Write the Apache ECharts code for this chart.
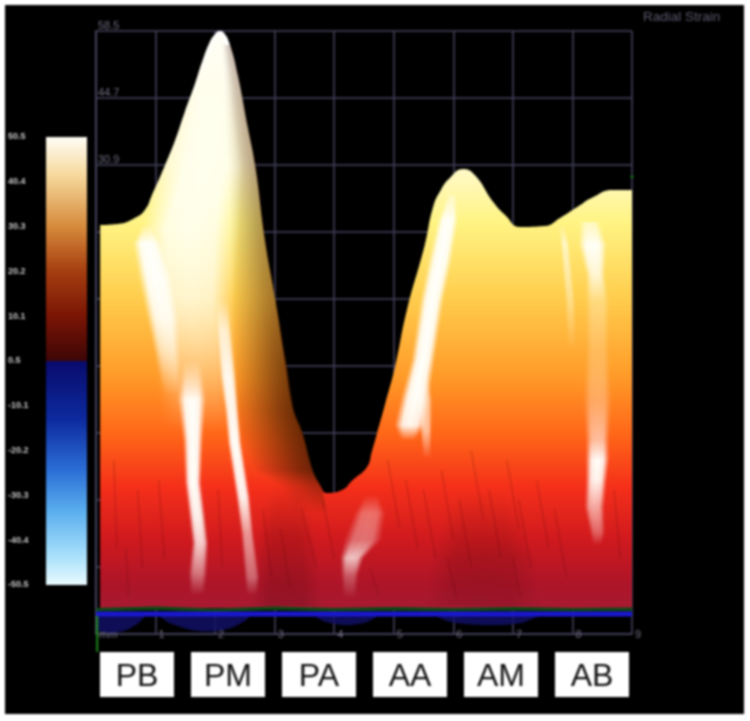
<!DOCTYPE html>
<html>
<head>
<meta charset="utf-8">
<script src="https://cdn.jsdelivr.net/npm/echarts@6/dist/echarts.min.js"></script>
<style>
html,body{margin:0;padding:0;background:#fff;}
#stage{position:relative;width:750px;height:721px;filter:blur(.9px);overflow:hidden;}
#panel{position:absolute;left:5px;top:5px;width:739px;height:709px;background:#000;}
#chart{position:absolute;left:0;top:0;width:750px;height:721px;}
</style>
</head>
<body>
<div id="stage"><div id="panel"></div><div id="chart"></div></div>
<script>
// ---- values (x in mm, strain in %) ----
const segments = ['PB','PM','PA','AA','AM','AB'];
const xTicks = [0,1,2,3,4,5,6,7,8,9];
const strainTicks = [58.5,44.7,30.9,17.1,3.3,-10.5,-24.3,-38.1,-51.9,-65.7];
const strainLabels = [58.5,44.7,30.9];
const surfaceBase = -60.35;
const blueBase = -61.6;
const surfaceTop = [
 [.07,18.54],[.37,18.75],[.65,19.98],[.82,21.63],[.94,24.72],[1.16,30.9],[1.33,36.05],[1.49,41.82],
 [1.66,47.58],[1.78,52.11],[1.91,56.23],[2.0,57.88],[2.07,58.5],[2.15,58.09],[2.25,55.62],[2.38,49.44],
 [2.55,38.52],[2.67,30.9],[2.84,15.04],[3.01,3.09],[3.17,-9.27],[3.31,-19.57],[3.46,-24.3],[3.63,-31.92],
 [3.76,-35.0],[3.88,-36.66],[4.13,-36.05],[4.31,-33.98],[4.55,-31.3],[4.63,-28.2],[4.72,-24.3],[4.85,-18.53],
 [5.02,-10.7],[5.22,1.03],[5.52,14.42],[5.66,22.25],[5.79,25.75],[5.94,28.22],[6.16,30.08],[6.36,28.84],
 [6.67,23.28],[6.87,20.6],[7.12,18.13],[7.54,18.33],[7.79,19.98],[8.08,22.25],[8.35,24.31],[8.68,25.75],[9,25.75]
];
const negativeLobes = [
 [.02,-65.0],[.24,-65.5],[.49,-65.0],[.71,-63.5],[.89,-61.6],[.96,-61.6],[1.24,-63.5],[1.58,-64.8],[1.91,-65.2],
 [2.25,-64.5],[2.5,-63],[2.67,-61.6],[3.56,-61.6],[3.84,-63.2],[4.18,-63.9],[4.52,-63.4],[4.85,-61.6],
 [5.57,-61.6],[5.94,-63.2],[6.53,-63.9],[7.12,-63.5],[7.61,-61.6],[9,-61.6]
];
const greenRim = [[0,-60.7],[1,-60.4],[2,-60.8],[3,-60.4],[4,-60.7],[5,-60.5],[6,-60.7],[7,-60.5],[8,-60.7],[9,-60.6]];
const greenMarker = [[.02,-62],[.02,-69.4]];
const greenDot = [[9,28.5]];
// streak rows: [x, strain, half-spread in mm, strength]
const slopeShade = [[2.18,55.6,.08,.3],[2.26,49.4,.13,.33],[2.36,38.5,.2,.36],[2.45,30.9,.24,.4],[2.55,15,.3,.45],[2.65,3.1,.37,.5],[2.75,-9.3,.44,.68],[2.82,-19.6,.5,.78],[2.93,-24.3,.54,.8],[3.14,-31.9,.5,.78],[3.44,-35.4,.34,.45],[3.6,-41,.3,0]];
const shadePA = [[3.2,-34,.3,0],[3.2,-46,.5,.18],[3.2,-60,.6,.22]];
const shadeAM = [[6.5,-36,.5,0],[6.5,-50,.9,.2],[6.5,-60,1.0,.16]];
const bodyGlow = [[2.07,57.5,.1,.5],[1.95,44.3,.37,1],[1.83,30.9,.64,1],[1.58,17.5,.84,.95],[1.58,3.1,.75,.8],[1.70,-12.8,.67,.32],[1.75,-24.1,.67,0]];
const hotPB = [[.84,18.5,.07,0],[.86,14.8,.24,1],[.99,7.8,.28,1],[1.12,-.4,.27,.9],[1.19,-7.2,.22,.6],[1.28,-16.5,.17,0]];
const hotPBlow = [[1.61,-9.3,.17,0],[1.61,-17.5,.24,1],[1.63,-25.8,.17,1],[1.63,-34.6,.14,1],[1.70,-41.6,.14,.95],[1.75,-47,.14,.8],[1.71,-53.2,.16,.42],[1.70,-57.7,.13,0]];
const hotPM = [[2.12,3.1,.12,0],[2.15,-3.1,.13,.7],[2.22,-12.8,.14,.95],[2.28,-19.6,.12,.95],[2.33,-26.4,.12,1],[2.47,-37.5,.12,.95],[2.54,-44.9,.11,.55],[2.62,-54,.13,.35],[2.62,-57.7,.1,0]];
const hotPA = [[4.63,-37.1,.13,0],[4.6,-40.8,.26,.35],[4.48,-46.3,.32,.38],[4.3,-50,.2,.75],[4.26,-53.6,.15,.3],[4.26,-58.3,.12,0]];
const hotAA = [[5.98,24.7,.07,.3],[5.91,19.6,.17,1],[5.78,11.3,.2,1],[5.64,3,.2,1],[5.49,-9.3,.2,1],[5.36,-16.9,.24,1],[5.27,-22.7,.26,.95],[5.24,-25.8,.13,0]];
const hotAAside = [[5.5,-12,.1,0],[5.52,-17.5,.13,.6],[5.54,-23.7,.1,.6],[5.56,-29.5,.07,0]];
const hotAB = [[8.29,19.2,.17,.5],[8.34,14.4,.24,1],[8.39,8.2,.16,.75],[8.42,3,.2,.3],[8.42,-7.2,.2,.2],[8.42,-17.5,.24,.3],[8.42,-25.8,.2,.6],[8.42,-29.9,.2,1],[8.4,-34,.18,.95],[8.37,-39.6,.17,.6],[8.42,-44.9,.13,.3],[8.42,-47.4,.08,0]];
const hotABthin = [[7.82,18.5,.05,0],[7.87,14.8,.07,.6],[7.96,3.1,.08,.35],[7.99,-7.2,.08,0]];
const fineStreaks = [
 [3.45,-40,3.7,-52],[3.8,-38,4.0,-50],[4.9,-30,5.1,-44],[5.2,-34,5.4,-48],[5.5,-36,5.7,-50],[5.8,-32,6.0,-46],
 [6.1,-38,6.3,-52],[6.3,-28,6.5,-42],[6.6,-36,6.8,-50],[6.9,-30,7.1,-44],[7.1,-38,7.3,-52],[7.4,-34,7.6,-48],
 [7.7,-40,7.9,-54],[8.7,-36,8.8,-50],[.3,-30,.35,-48],[.7,-36,.78,-52],[1.05,-34,1.15,-50],[2.05,-36,2.12,-52],
 [2.8,-40,2.95,-54],[3.1,-44,3.25,-56],[.5,-48,.55,-58],[4.6,-52,4.75,-58],[5.9,-50,6.05,-58],[7.0,-50,7.12,-58]
];
const colorbarPositive = [50.5];
const colorbarNegative = [-50.5];

// ---- styling ----
const gridColor = '#45435e';
const textColor = '#6f6e82';
const surfaceStops = [[0,'#ffffff'],[.23,'#fffad0'],[.33,'#fff484'],[.46,'#ffce4e'],[.6,'#ff9a28'],[.7,'#ff6618'],[.79,'#f5301a'],[.88,'#d01a1e'],[.96,'#ad1528'],[1,'#a81a32']];
const warmStops = [[0,'#fffdf5'],[.17,'#f6d99d'],[.4,'#d68a3c'],[.6,'#a53e10'],[.8,'#7a1505'],[1,'#3e0606']];
const coolStops = [[0,'#090b6c'],[.26,'#0d2a9e'],[.49,'#2c6fd6'],[.67,'#5aaeee'],[.87,'#a8e0fb'],[1,'#eafbff']];
const grad = s => new echarts.graphic.LinearGradient(0,0,0,1,s.map(p=>({offset:p[0],color:p[1]})));

function softBand(rows, rgb, fromRight) {
  return {
    type:'custom', xAxisIndex:0, yAxisIndex:0, silent:true, animation:false, data:rows, encode:{x:0,y:1},
    renderItem(params, api){
      const a = rows[params.dataIndex], b = rows[params.dataIndex+1];
      if(!b) return null;
      const py0 = api.coord([a[0],a[1]])[1], py1 = api.coord([b[0],b[1]])[1];
      const x0 = api.coord([0,0])[0], pxPerMm = api.size([1,0])[0];
      const kids = [];
      const col=o=>`rgba(${rgb},${o.toFixed(3)})`;
      for(let y=Math.round(py0); y<Math.round(py1); y++){
        const t=(y+.5-py0)/(py1-py0), m=k=>a[k]+(b[k]-a[k])*t;
        const al=Math.max(0,m(3)), xl=x0+(m(0)-m(2))*pxPerMm, xr=x0+(m(0)+m(2))*pxPerMm;
        const stops = fromRight
          ? [{offset:0,color:col(0)},{offset:.75,color:col(al*.8)},{offset:1,color:col(al)}]
          : [{offset:0,color:col(0)},{offset:.25,color:col(al*.92)},{offset:.5,color:col(al)},{offset:.75,color:col(al*.92)},{offset:1,color:col(0)}];
        kids.push({type:'rect',shape:{x:xl,y:y,width:xr-xl,height:1},
          style:{fill:new echarts.graphic.LinearGradient(xl,0,xr,0,stops,true)}});
      }
      return {type:'group',children:kids};
    }
  };
}

const chart = echarts.init(document.getElementById('chart'), null, {renderer:'canvas'});
chart.setOption({
  animation:false,
  title:{text:'Radial Strain',left:638,top:5,textStyle:{color:'#5c5b70',fontSize:13.5,fontWeight:'normal',fontFamily:'Liberation Sans'}},
  grid:[
    {left:96,right:118,top:31,height:603},
    {left:46,width:41,top:137,height:448},
    {left:91.5,width:546,top:640,height:10}
  ],
  xAxis:[
    {type:'value',gridIndex:0,min:0,max:9,interval:1,
     axisLine:{show:true,onZero:false,lineStyle:{color:gridColor,width:1.5}},
     axisTick:{show:false},
     splitLine:{show:true,lineStyle:{color:gridColor,width:1.5}},
     axisLabel:{show:true,margin:1,align:'left',verticalAlign:'middle',padding:[0,0,0,3],color:textColor,fontSize:11,
       fontFamily:'Liberation Sans',formatter:v=>v===0?'mm':String(v),hideOverlap:false,showMinLabel:true,showMaxLabel:true}},
    {type:'category',gridIndex:1,data:[''],axisLine:{show:false},axisTick:{show:false},axisLabel:{show:false}},
    {type:'category',gridIndex:2,data:segments,axisLine:{show:false},axisTick:{show:false},
     axisLabel:{interval:0,margin:2,color:'#111',fontFamily:'Liberation Sans',fontSize:32,backgroundColor:'#fff',
       width:74,height:43,padding:[2,0,0,0],lineHeight:46,align:'center',verticalAlign:'top'}}
  ],
  yAxis:[
    {type:'value',gridIndex:0,min:-65.7,max:58.5,
     axisLine:{show:true,lineStyle:{color:gridColor,width:2}},
     axisTick:{show:false,customValues:strainTicks},
     splitLine:{show:true,lineStyle:{color:gridColor,width:1.5}},
     axisLabel:{customValues:strainLabels,inside:true,margin:2,verticalAlign:'bottom',color:textColor,fontSize:11,
       fontFamily:'Liberation Sans',formatter:v=>v.toFixed(1)}},
    {type:'value',gridIndex:1,min:-50.5,max:50.5,interval:10.1,
     axisLine:{show:false},axisTick:{show:false},splitLine:{show:false},
     axisLabel:{margin:38,align:'left',padding:[9,0,0,0],color:'#c6c6c6',fontSize:9,fontWeight:'bold',fontFamily:'Liberation Sans',
       formatter:v=>Math.abs(v)<.01?'0.5':v.toFixed(1)}},
    {type:'value',gridIndex:2,show:false}
  ],
  series:[
    {type:'line',xAxisIndex:0,yAxisIndex:0,data:surfaceTop,smooth:.5,symbol:'none',silent:true,
     lineStyle:{width:0},areaStyle:{origin:surfaceBase,color:grad(surfaceStops),opacity:1},z:2},
    Object.assign(softBand(slopeShade,'70,25,0',true),{z:3}),
    Object.assign(softBand(shadePA,'70,5,10',false),{z:3}),
    Object.assign(softBand(shadeAM,'70,5,10',false),{z:3}),
    Object.assign(softBand(bodyGlow,'255,255,238',false),{z:4}),
    ...[hotPB,hotPBlow,hotPM,hotPA,hotAA,hotAAside,hotAB,hotABthin].map(r=>Object.assign(softBand(r,'255,255,250',false),{z:5})),
    {type:'custom',xAxisIndex:0,yAxisIndex:0,silent:true,data:fineStreaks,encode:{x:[0,2],y:[1,3]},z:4,
     renderItem(params,api){
       const p=api.coord([api.value(0),api.value(1)]),q=api.coord([api.value(2),api.value(3)]);
       return {type:'line',shape:{x1:p[0],y1:p[1],x2:q[0],y2:q[1]},style:{stroke:'rgba(90,5,15,.16)',lineWidth:2}};
     }},
    {type:'line',xAxisIndex:0,yAxisIndex:0,data:negativeLobes,symbol:'none',smooth:.3,silent:true,
     lineStyle:{width:0},areaStyle:{origin:blueBase,color:'#12106a',opacity:.8},z:5},
    {type:'line',xAxisIndex:0,yAxisIndex:0,data:greenRim,symbol:'none',silent:true,lineStyle:{color:'#0c4a14',width:3.5},z:6},
    {type:'line',xAxisIndex:0,yAxisIndex:0,data:[[0,blueBase],[9,blueBase]],symbol:'none',silent:true,lineStyle:{color:'#1a18d0',width:5},z:7},
    {type:'line',xAxisIndex:0,yAxisIndex:0,data:greenMarker,clip:false,symbol:'none',silent:true,lineStyle:{color:'#1c8a1c',width:2},z:7},
    {type:'scatter',xAxisIndex:0,yAxisIndex:0,data:greenDot,symbolSize:3,clip:false,silent:true,itemStyle:{color:'#1c8a1c'},z:7},
    {type:'bar',xAxisIndex:1,yAxisIndex:1,data:colorbarPositive,barWidth:'100%',barGap:'-100%',silent:true,itemStyle:{color:grad(warmStops)}},
    {type:'bar',xAxisIndex:1,yAxisIndex:1,data:colorbarNegative,barWidth:'100%',barGap:'-100%',silent:true,
     itemStyle:{color:new echarts.graphic.LinearGradient(0,0,0,1,coolStops.map(p=>({offset:p[0],color:p[1]})))}}
  ]
});
</script>
</body>
</html>
